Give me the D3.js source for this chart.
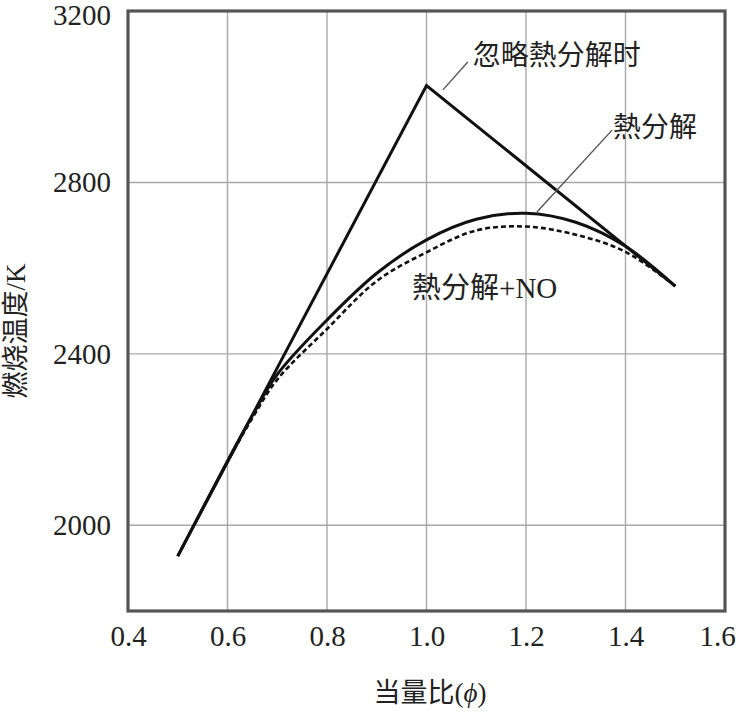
<!DOCTYPE html>
<html>
<head>
<meta charset="utf-8">
<script src="https://cdn.jsdelivr.net/npm/d3@7"></script>
<style>
  html, body { margin: 0; padding: 0; background: #fff; }
  svg text { font-family: "Liberation Serif", "Noto Sans CJK SC", serif; fill: #222; }
</style>
</head>
<body>
<svg id="chart" width="737" height="723"></svg>
<script>
// ---- data ----
const xTicks = [0.4, 0.6, 0.8, 1.0, 1.2, 1.4, 1.6];
const yTicks = [2000, 2400, 2800, 3200];
const yGrid = [2000, 2400, 2800];

// 忽略热分解时 (no dissociation)
const phiIgnore = [0.5, 1.0, 1.5];
const tIgnore   = [1928, 3026, 2558];

// 热分解 (with dissociation)
const phiDiss = [0.5, 0.6, 0.65, 0.7, 0.8, 0.9, 1.0, 1.1, 1.2, 1.3, 1.4, 1.5];
const tDiss   = [1928, 2150, 2256, 2352, 2479, 2588, 2666, 2714, 2728, 2707, 2651, 2558];

// 热分解+NO
const phiNO = [0.5, 0.6, 0.65, 0.7, 0.8, 0.9, 1.0, 1.1, 1.2, 1.3, 1.4, 1.5];
const tNO   = [1928, 2148, 2250, 2340, 2458, 2570, 2637, 2688, 2697, 2678, 2638, 2558];

const labels = ["忽略熱分解时", "熱分解", "熱分解+NO"];
const xTitle = "当量比(";
const xTitleSym = "ϕ";
const yTitle = "燃烧温度/K";

// ---- layout ----
const svg = d3.select("#chart");
const L = 128, R = 725, T = 11, B = 611;
const x = d3.scaleLinear().domain([0.4, 1.6]).range([L, R]);
const y = d3.scaleLinear().domain([1800, 3200]).range([B, T]);

// grid
const g = svg.append("g");
g.selectAll(".vg").data(xTicks.slice(1, -1)).enter().append("line")
  .attr("x1", d => x(d)).attr("x2", d => x(d)).attr("y1", T).attr("y2", B)
  .attr("stroke", "#a8a8a8").attr("stroke-width", 1.4);
g.selectAll(".hg").data(yGrid).enter().append("line")
  .attr("x1", L).attr("x2", R).attr("y1", d => y(d)).attr("y2", d => y(d))
  .attr("stroke", "#a8a8a8").attr("stroke-width", 1.4);

// axes (labels only, no tick marks)
const xAxis = d3.axisBottom(x).tickValues(xTicks).tickFormat(d3.format(".1f")).tickSize(0).tickPadding(14);
const gx = svg.append("g").attr("transform", `translate(0,${B})`).call(xAxis);
gx.select(".domain").remove();
gx.selectAll("text").attr("font-size", 29).attr("dy", "0.71em")
  .style("font-family", '"Liberation Serif", serif');
// keep last label inside the canvas
gx.selectAll(".tick").filter(d => d === 1.6).select("text").attr("dx", -8);

const yAxis = d3.axisLeft(y).tickValues(yTicks).tickFormat(d3.format("d")).tickSize(0).tickPadding(17);
const gy = svg.append("g").attr("transform", `translate(${L},0)`).call(yAxis);
gy.select(".domain").remove();
gy.selectAll("text").attr("font-size", 29)
  .style("font-family", '"Liberation Serif", serif');
gy.selectAll(".tick").filter(d => d === 3200).select("text").attr("dy", "0.45em");

// frame
svg.append("rect").attr("x", L).attr("y", T).attr("width", R - L).attr("height", B - T)
  .attr("fill", "none").attr("stroke", "#555").attr("stroke-width", 3.2);

// lines
const line = d3.line().x(d => x(d[0])).y(d => y(d[1]));
const curve = d3.line().x(d => x(d[0])).y(d => y(d[1])).curve(d3.curveCatmullRom.alpha(0.5));

svg.append("path").datum(d3.zip(phiIgnore, tIgnore)).attr("d", line)
  .attr("fill", "none").attr("stroke", "#111").attr("stroke-width", 3).attr("stroke-linejoin", "miter");
svg.append("path").datum(d3.zip(phiNO, tNO)).attr("d", curve)
  .attr("fill", "none").attr("stroke", "#111").attr("stroke-width", 2.6).attr("stroke-dasharray", "5,3");
svg.append("path").datum(d3.zip(phiDiss, tDiss)).attr("d", curve)
  .attr("fill", "none").attr("stroke", "#111").attr("stroke-width", 3);

// annotations
const lead = [
  [[1.033, 3016], [1.083, 3081]],
  [[1.222, 2731], [1.373, 2922]]
];
lead.forEach(p => {
  svg.append("line").attr("x1", x(p[0][0])).attr("y1", y(p[0][1]))
    .attr("x2", x(p[1][0])).attr("y2", y(p[1][1]))
    .attr("stroke", "#555").attr("stroke-width", 1.4);
});
const labPos = [[1.093, 3097], [1.375, 2929], [0.971, 2554]];
const labSize = [28, 28, 29];
labels.forEach((t, i) => {
  svg.append("text").attr("x", x(labPos[i][0])).attr("y", y(labPos[i][1]))
    .attr("dy", "0.35em").attr("font-size", labSize[i]).text(t);
});

// axis titles
const xt = svg.append("text").attr("x", 430).attr("y", 693).attr("dy", "0.35em")
  .attr("text-anchor", "middle").attr("font-size", 27);
xt.append("tspan").text(xTitle);
xt.append("tspan").attr("font-style", "italic").text(xTitleSym);
xt.append("tspan").text(")");
svg.append("text").attr("transform", `translate(16,331) rotate(-90)`).attr("dy", "0.35em")
  .attr("text-anchor", "middle").attr("font-size", 27).text(yTitle);
</script>
</body>
</html>
